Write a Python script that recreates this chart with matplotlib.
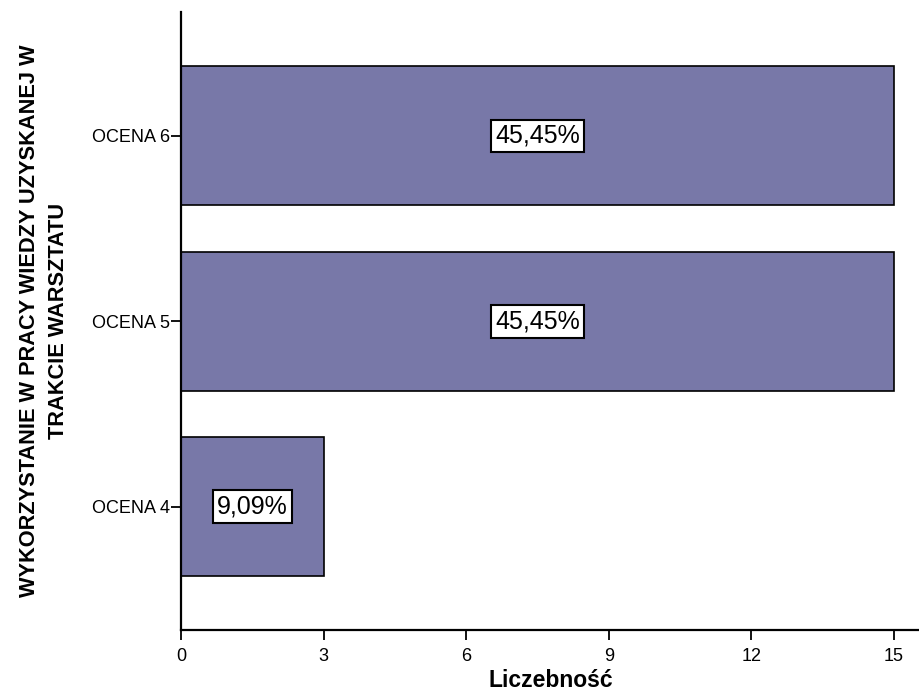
import matplotlib.pyplot as plt

categories = ["OCENA 4", "OCENA 5", "OCENA 6"]
counts = [3, 15, 15]
percent_labels = ["9,09%", "45,45%", "45,45%"]
x_ticks = [0, 3, 6, 9, 12, 15]

plt.rcParams['font.family'] = ['Liberation Sans', 'DejaVu Sans']

fig = plt.figure(figsize=(9.2, 6.91), dpi=100)
ax = fig.add_axes([0.1967, 0.0883, 0.8033, 0.8943])

pos = list(range(len(categories)))
bars = ax.barh(pos, counts, height=0.75, color='#7878a8', edgecolor='black', linewidth=1.2)

for p, c, lab in zip(pos, counts, percent_labels):
    ax.text(c / 2, p, lab, ha='center', va='center', fontsize=18,
            bbox=dict(boxstyle='square,pad=0.17', facecolor='white', edgecolor='black', linewidth=1.5))

ax.set_xlim(0, 15.55)
ax.set_ylim(-0.665, 2.668)
ax.set_yticks(pos)
ax.set_yticklabels(categories, fontsize=13)
ax.set_xticks(x_ticks)
ax.set_xticklabels([str(t) for t in x_ticks], fontsize=13)

for s in ['top', 'right']:
    ax.spines[s].set_visible(False)
for s in ['left', 'bottom']:
    ax.spines[s].set_linewidth(1.6)

ax.tick_params(axis='x', length=7, width=1.3, pad=6)
ax.tick_params(axis='y', length=7, width=1.3, pad=1)

ax.set_xlabel('Liczebność', fontsize=16.5, fontweight='bold', labelpad=3)
ax.set_ylabel('WYKORZYSTANIE W PRACY WIEDZY UZYSKANEJ W\nTRAKCIE WARSZTATU', fontsize=15.7,
              fontweight='bold', linespacing=1.5)
ax.yaxis.set_label_coords(-0.151, 0.5)

plt.savefig('out.png', dpi=100)
